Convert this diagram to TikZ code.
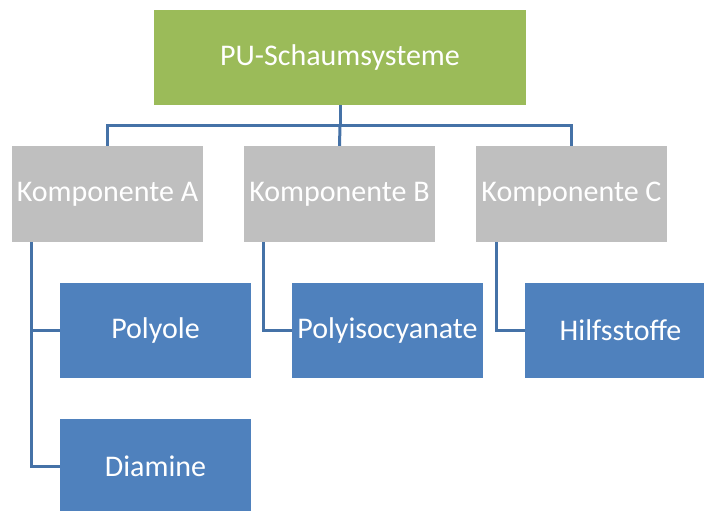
\documentclass[tikz,border=0pt]{standalone}
\usepackage{fontspec}
\setmainfont{Carlito}
\definecolor{topgreen}{HTML}{9BBB59}
\definecolor{midgray}{HTML}{BFBFBF}
\definecolor{leafblue}{HTML}{4F81BD}
\definecolor{linkblue}{HTML}{4572A7}
\begin{document}
\begin{tikzpicture}[x=1pt,y=-1pt,
  box/.style={draw=none,minimum width=191pt,minimum height=95pt,inner sep=0pt,text=white,font=\fontsize{30}{34}\selectfont},
  topbox/.style={box,fill=topgreen,minimum width=372pt},
  graybox/.style={box,fill=midgray,minimum height=96pt},
  bluebox/.style={box,fill=leafblue},
  link/.style={draw=linkblue,line width=3pt}]
\useasboundingbox (0,0) rectangle (704,511);
\node[topbox] (top) at (340,57.5) {PU-Schaumsysteme};
\node[graybox] (A) at (107.5,194) {Komponente A};
\node[graybox] (B) at (339.5,194) {Komponente B};
\node[graybox] (C) at (571.5,194) {Komponente C};
\node[bluebox] (P) at (155.5,330.5) {Polyole};
\node[bluebox] (D) at (155.5,466.5) {Diamine};
\node[bluebox] (I) at (387.5,330.5) {Polyisocyanate};
\node[bluebox] (H) at (620.5,330.5) {Hilfsstoffe};
\coordinate (bus) at (340,125.5);
\draw[link] (top.south) -- (bus);
\draw[link] (bus) -| (A.north);
\draw[link] (bus) -| (C.north);
\draw[link] (bus) -- (B.north);
\draw[link] ([xshift=-76.5pt]A.south) |- (P.west);
\draw[link] ([xshift=-76.5pt]A.south) |- (D.west);
\draw[link] ([xshift=-76pt]B.south) |- (I.west);
\draw[link] ([xshift=-75.5pt]C.south) |- (H.west);
\end{tikzpicture}
\end{document}
